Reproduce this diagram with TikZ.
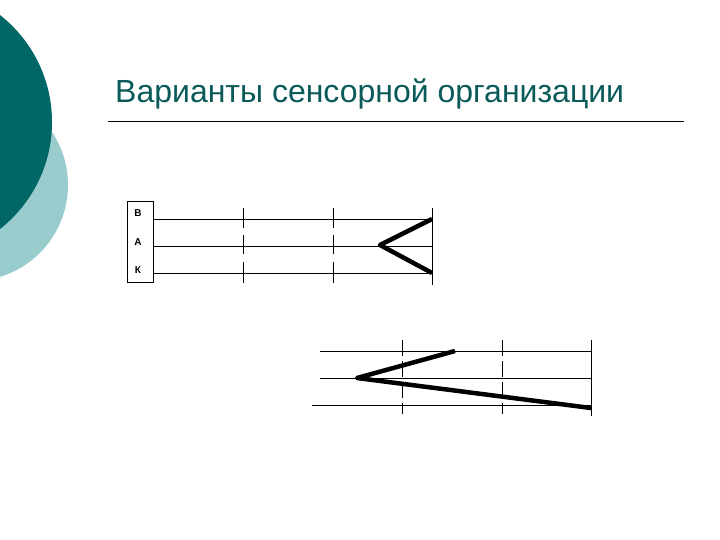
\documentclass[tikz,border=0pt]{standalone}
\usepackage{fontspec}
\setmainfont{Liberation Sans}
\definecolor{tealdark}{RGB}{0,102,102}
\definecolor{teallight}{RGB}{153,204,204}
\definecolor{titlecol}{RGB}{10,90,90}
\tikzset{
  gridline/.style={line width=0.8pt, black},
  tickline/.style={line width=0.8pt, black},
  dashtick/.style={line width=0.8pt, black, dash pattern=on 16pt off 5pt},
  thick path/.style={line width=4.5pt, black, line join=round},
  lbl/.style={font=\fontsize{10}{10}\selectfont\bfseries, inner sep=0pt}
}
\begin{document}
\begin{tikzpicture}[x=1pt,y=-1pt]
\useasboundingbox (0,0) rectangle (720,540);
\fill[white] (0,0) rectangle (720,540);
% decorative circles
\begin{scope}
\clip (0,0) rectangle (720,540);
\fill[teallight] (-28,185) circle (96);
\fill[tealdark] (-84,122) circle (136);
\end{scope}
% title
\node[anchor=base west, inner sep=0pt, text=titlecol, font=\fontsize{32}{32}\selectfont] (title) at (115,103) {Варианты сенсорной организации};
\coordinate (rl) at (108,121);
\coordinate (rr) at (684,121);
\draw[line width=0.8pt] (rl) -- (rr);

% ---------- diagram 1 ----------
\node[draw, line width=0.8pt, minimum width=26pt, minimum height=81pt, inner sep=0pt] (box) at (140,242) {};
\node[lbl] (lB) at (138,213) {В};
\node[lbl] (lA) at (138,242) {А};
\node[lbl] (lK) at (138,270) {К};
\foreach \n/\y in {1/219,2/246,3/273}{
  \coordinate (a\n) at (153,\y);
  \coordinate (b\n) at (432,\y);
  \draw[gridline] (a\n) -- (b\n);
}
\foreach \x in {243,333}{
  \draw[tickline] (\x,208) -- (\x,228);
  \draw[tickline] (\x,235) -- (\x,254);
  \draw[tickline] (\x,262) -- (\x,283);
}
\coordinate (t1top) at (432,208);
\coordinate (t1bot) at (432,285);
\draw[tickline] (t1top) -- (t1bot);
\coordinate (v1) at (380,245);
\draw[thick path] (b1) -- (v1) -- (b3);

% ---------- diagram 2 ----------
\coordinate (c1) at (320,351); \coordinate (d1) at (591,351);
\coordinate (c2) at (320,378); \coordinate (d2) at (591,378);
\coordinate (c3) at (312,405); \coordinate (d3) at (591,405);
\draw[gridline] (c1) -- (d1);
\draw[gridline] (c2) -- (d2);
\draw[gridline] (c3) -- (d3);
\foreach \x in {402,502}{
  \draw[dashtick] (\x,340) -- (\x,414);
}
\coordinate (t2top) at (591,340);
\coordinate (t2bot) at (591,416);
\draw[tickline] (t2top) -- (t2bot);
\coordinate (p1) at (455,351);
\coordinate (v2) at (357,378);
\coordinate (p2) at (591,408);
\draw[thick path] (p1) -- (v2) -- (p2);
\end{tikzpicture}
\end{document}
